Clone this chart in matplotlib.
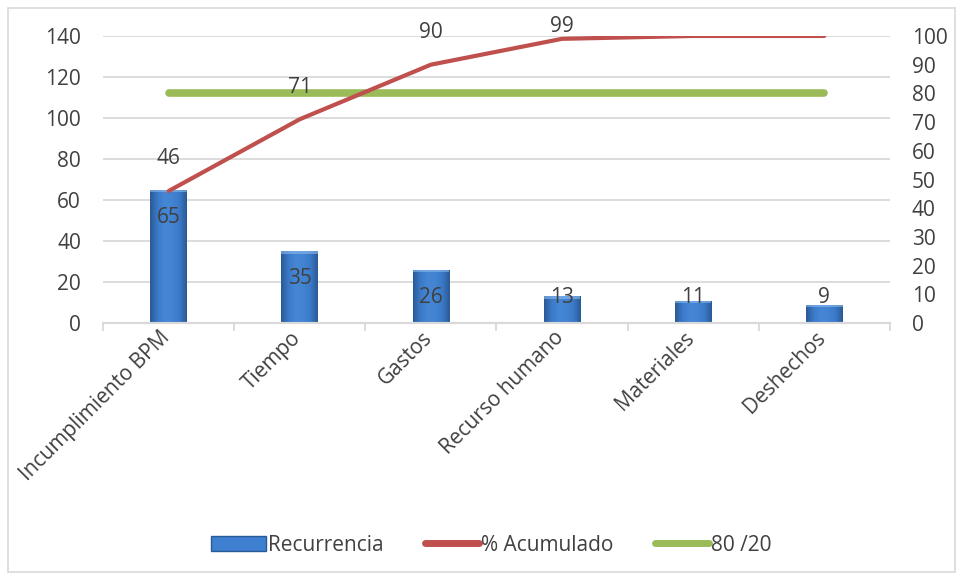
import numpy as np
import matplotlib.pyplot as plt
from matplotlib.colors import LinearSegmentedColormap
from matplotlib.lines import Line2D
from matplotlib.patches import Patch, Rectangle
from matplotlib.transforms import ScaledTranslation

plt.rcParams['font.family'] = ['Open Sans', 'DejaVu Sans']

categorias = ['Incumplimiento BPM', 'Tiempo', 'Gastos', 'Recurso humano',
              'Materiales', 'Deshechos']
recurrencia = [65, 35, 26, 13, 11, 9]
acumulado = [46, 71, 90, 99, 100, 100]
acumulado_etiquetas = [46, 71, 90, 99]
linea_80_20 = [80, 80, 80, 80, 80, 80]

TXT = '#404040'
GRID = '#d9d9d9'
AZUL = '#3f7fcf'
ROJO = '#c0504d'
VERDE = '#9bbb59'
FS = 15

fig = plt.figure(figsize=(9.64, 5.8), dpi=100)
fig.patches.append(Rectangle((0.008, 0.014), 0.983, 0.972, transform=fig.transFigure,
                             fill=False, edgecolor=GRID, linewidth=1.2))

ax = fig.add_axes([0.107, 0.443, 0.816, 0.495])
ax2 = ax.twinx()

x = np.arange(len(categorias))

# barras con degradado suave y bordes oscuros
bars = ax.bar(x, recurrencia, width=0.28, color=AZUL, zorder=2)
cmap = LinearSegmentedColormap.from_list(
    'cil', ['#2a5a96', '#3b7ac8', '#4586d5', '#4283d2', '#3b7ac8', '#2a5a96'])
grad = np.linspace(0, 1, 64).reshape(1, -1)
for b in bars:
    x0, w, h = b.get_x(), b.get_width(), b.get_height()
    im = ax.imshow(grad, extent=[x0, x0 + w, 0, h], aspect='auto', cmap=cmap,
                   zorder=2.1, interpolation='bicubic')
    im.set_clip_path(b)
    ax.add_patch(Rectangle((x0, h - 1.3), w, 1.3, color='#8dbbee', alpha=0.6,
                           zorder=2.2, linewidth=0))

# etiquetas de las barras
for xi, v in zip(x, recurrencia):
    ax.text(xi, max(v - 13.5, 12.3), str(v), ha='center', va='center',
            fontsize=FS, color=TXT, zorder=5)

ax.set_xlim(-0.5, len(categorias) - 0.5)
ax.set_ylim(0, 140)
ax.set_yticks(np.arange(0, 141, 20))
ax.yaxis.grid(True, color=GRID, linewidth=1.3, zorder=0)
ax.set_axisbelow(True)

ax.set_xticks(x)
ax.set_xticklabels(categorias, rotation=45, ha='right', rotation_mode='anchor')
ax.set_xticks(np.arange(-0.5, len(categorias)), minor=True)
ax.tick_params(axis='x', which='major', length=0, pad=6, labelsize=FS, labelcolor=TXT)
ax.tick_params(axis='x', which='minor', length=6, width=1.3, color=GRID, direction='out')
ax.tick_params(axis='y', length=0, pad=16, labelsize=FS, labelcolor=TXT)
desplaza = ScaledTranslation(-0.09, 0.04, fig.dpi_scale_trans)
for lab in ax.get_xticklabels():
    lab.set_transform(lab.get_transform() + desplaza)

# eje derecho para los porcentajes
ax2.set_ylim(0, 100)
ax2.set_yticks(np.arange(0, 101, 10))
ax2.tick_params(axis='y', length=0, pad=16, labelsize=FS, labelcolor=TXT)
for a in (ax, ax2):
    for s in ('top', 'left', 'right'):
        a.spines[s].set_visible(False)
    a.spines['bottom'].set_color(GRID)
    a.spines['bottom'].set_linewidth(1.5)

ax2.plot(x, linea_80_20, color=VERDE, linewidth=5.5, solid_capstyle='round', zorder=3)
ax2.plot(x, acumulado, color=ROJO, linewidth=3, solid_capstyle='round', zorder=4)
# etiquetas sobre la curva, sin salir del borde superior
for xi, v in zip(x, acumulado_etiquetas):
    ax2.text(xi, min(v + 11.2, 103.2), str(v), ha='center', va='center',
             fontsize=FS, color=TXT, clip_on=False, zorder=6)

handles = [Patch(facecolor=AZUL, edgecolor='#2a5a96'),
           Line2D([], [], color=ROJO, linewidth=5, solid_capstyle='round'),
           Line2D([], [], color=VERDE, linewidth=5, solid_capstyle='round')]
fig.legend(handles, ['Recurrencia', '% Acumulado', '80 /20'], loc='center',
           bbox_to_anchor=(0.51, 0.06), ncol=3, frameon=False, fontsize=FS,
           labelcolor=TXT, handlelength=2.6, handletextpad=0.1, columnspacing=2.0)

fig.savefig('out.png', dpi=100)
